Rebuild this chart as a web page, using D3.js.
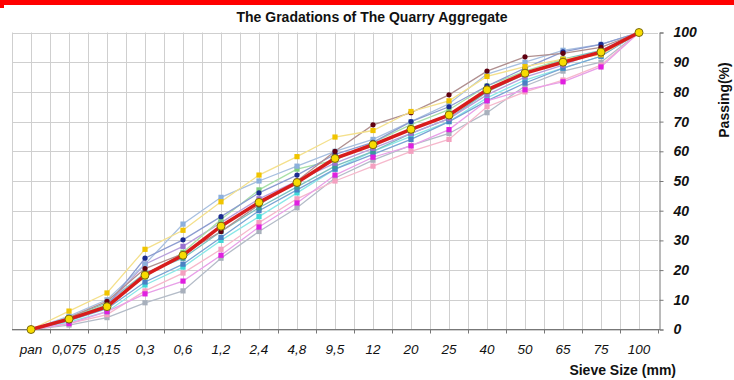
<!DOCTYPE html>
<html>
<head>
<meta charset="utf-8">
<script src="https://cdn.jsdelivr.net/npm/d3@7"></script>
<style>
  body { margin: 0; background: #fff; }
  svg { display: block; font-family: Arial, 'Liberation Sans', sans-serif; }
</style>
</head>
<body>
<div id="plot"></div>
<script>
'use strict';

const categories = ['pan', '0,075', '0,15', '0,3', '0,6', '1,2', '2,4', '4,8', '9,5', '12', '20', '25', '40', '50', '65', '75', '100'];
const yTicks = [0, 10, 20, 30, 40, 50, 60, 70, 80, 90, 100];

const average   = [0, 3.5, 7.7, 18.3, 25, 34.8, 42.8, 49.5, 57.6, 62.2, 67.4, 72.2, 80.7, 86.3, 90, 93.4, 100];
const gold      = [0, 6.2, 12.3, 27, 33.4, 43, 52, 58.2, 64.8, 67, 73.4, 77, 85.2, 88.5, 91, 92.5, 100];
const maroon    = [0, 4, 9.5, 20.5, 25.5, 33, 42, 50, 60, 68.9, 73, 79, 87, 91.8, 93, 95, 100];
const navy      = [0, 3, 8, 24, 30.2, 38, 46, 52, 59, 63, 70, 75, 82, 88, 93.5, 96, 100];
const magenta   = [0, 2, 6, 12, 16.3, 25, 34.5, 42.6, 52, 58, 61.8, 67.3, 77, 80.7, 83.4, 88.4, 100];
const sky       = [0, 4.5, 10, 22, 35.5, 44.5, 50, 55, 60, 64, 70, 76, 86, 90, 94, 96, 100];
const cyan      = [0, 2.5, 6, 15, 21, 30, 38, 46, 54, 60, 65, 70, 78, 84, 88, 92, 100];
const lightGreen= [0, 3.8, 8.5, 17.6, 26, 37, 47, 54, 57, 63, 69, 74, 82, 87, 91, 93, 100];
const gray      = [0, 1.5, 4, 9, 13, 24, 33, 41, 51, 57, 62, 66, 73, 82, 87, 90, 100];
const pink      = [0, 2, 5, 13, 19, 27, 36, 44, 50, 55, 60, 64, 75, 80, 84, 89, 100];
const purple    = [0, 3.5, 8, 22, 28, 36, 44, 50, 56, 61, 66, 71, 79, 85, 89, 94, 100];
const teal      = [0, 4, 9, 19, 24, 33, 41, 48, 55, 60, 66, 71, 80, 86, 91, 94, 100];
const blue      = [0, 3, 7, 16, 22, 31, 40, 47, 54, 59, 64, 70, 77, 83, 88, 92, 100];

// style per series (line colour, marker colour, marker shape)
let series = [
  {values: gray,       line: '#b4bcc8', mark: '#a8b0bc', shape: 'square'},
  {values: pink,       line: '#f6b8cc', mark: '#f4a0c0', shape: 'square'},
  {values: cyan,       line: '#8ae8e8', mark: '#40d8d8', shape: 'square'},
  {values: blue,       line: '#7aa4d4', mark: '#4a80c4', shape: 'square'},
  {values: teal,       line: '#7cc0c0', mark: '#3a9a9a', shape: 'square'},
  {values: purple,     line: '#b8a0dc', mark: '#9a70d0', shape: 'square'},
  {values: lightGreen, line: '#a8e0a8', mark: '#80d080', shape: 'square'},
  {values: sky,        line: '#a8c0e0', mark: '#8cb0dc', shape: 'square'},
  {values: magenta,    line: '#e8a0e8', mark: '#e020e0', shape: 'square'},
  {values: navy,       line: '#8c9cd0', mark: '#1a2a90', shape: 'circle'},
  {values: maroon,     line: '#b09090', mark: '#600010', shape: 'circle'},
  {values: gold,       line: '#f4e08c', mark: '#f0c400', shape: 'square'}
]

let width = 734, height = 380;
let svg = d3.select('#plot').append('svg')
  .attr('width', width)
  .attr('height', height)

// red banner at top
svg.append('rect').attr('x', 0).attr('y', 0).attr('width', width).attr('height', 5).attr('fill', '#ff0000')
svg.append('rect').attr('x', 0).attr('y', 5).attr('width', 4).attr('height', 3).attr('fill', '#ff0000')

let x = d3.scaleBand()
  .domain(categories)
  .range([12, 658]);
let y = d3.scaleLinear()
  .domain([0, 100])
  .range([329.5, 32.5]);
let cx = c => x(c) + x.bandwidth() / 2;

// grid
let grid = svg.append('g').attr('stroke', '#cfcfcf').attr('stroke-width', 1)
grid.selectAll('.hy')
  .data(yTicks)
  .enter()
  .append('line')
  .attr('x1', 12).attr('x2', 658)
  .attr('y1', d => Math.round(y(d)) + 0.5).attr('y2', d => Math.round(y(d)) + 0.5)
let vx = []
categories.forEach(c => { vx.push(x(c)); vx.push(cx(c)); })
grid.selectAll('.vx')
  .data(vx)
  .enter()
  .append('line')
  .attr('x1', d => Math.round(d) + 0.5).attr('x2', d => Math.round(d) + 0.5)
  .attr('y1', y(100)).attr('y2', y(0))

// right axis
let yAxis = d3.axisRight(y).tickValues(yTicks).tickSize(4).tickPadding(10)
let ya = svg.append('g')
  .attr('transform', `translate(${x.range()[1] + 1.5}, 0)`)
  .call(yAxis)
ya.select('.domain').attr('stroke', '#777')
ya.selectAll('.tick line').attr('stroke', '#777')
ya.selectAll('text')
  .attr('font-size', '14px')
  .attr('font-weight', 'bold')
  .attr('font-style', 'italic')
  .attr('fill', '#111')
  .attr('font-family', 'Arial, Liberation Sans, sans-serif')

// bottom axis: labels at centres, ticks at band edges
let xAxis = d3.axisBottom(x).tickSize(0).tickPadding(15)
let xa = svg.append('g')
  .attr('transform', `translate(0, ${y(0)})`)
  .call(xAxis)
xa.select('.domain').remove()
xa.selectAll('text')
  .attr('font-size', '13.5px')
  .attr('font-style', 'italic')
  .attr('fill', '#111')
  .attr('font-family', 'Arial, Liberation Sans, sans-serif')
svg.append('line')
  .attr('x1', 12).attr('x2', 660)
  .attr('y1', y(0)).attr('y2', y(0))
  .attr('stroke', '#777')
svg.append('g').selectAll('line')
  .data(categories.slice(1).concat(['end']))
  .enter()
  .append('line')
  .attr('x1', d => d == 'end' ? 658.5 : Math.round(x(d)) + 0.5)
  .attr('x2', d => d == 'end' ? 658.5 : Math.round(x(d)) + 0.5)
  .attr('y1', y(0)).attr('y2', y(0) + 4)
  .attr('stroke', '#777')

// series
let line = d3.line()
  .x((d, i) => cx(categories[i]))
  .y(d => y(d))
series.forEach(function(s) {
  svg.append('path')
    .attr('d', line(s.values))
    .attr('fill', 'none')
    .attr('stroke', s.line)
    .attr('stroke-width', 1.3)
})
series.forEach(function(s) {
  let g = svg.append('g')
  let pts = s.values.map((v, i) => ({c: categories[i], v: v})).slice(1, 16)
  if (s.shape == 'circle') {
    g.selectAll('circle')
      .data(pts)
      .enter()
      .append('circle')
      .attr('cx', d => cx(d.c))
      .attr('cy', d => y(d.v))
      .attr('r', 2.6)
      .attr('fill', s.mark)
  } else {
    g.selectAll('rect')
      .data(pts)
      .enter()
      .append('rect')
      .attr('x', d => cx(d.c) - 2.6)
      .attr('y', d => y(d.v) - 2.6)
      .attr('width', 5.2)
      .attr('height', 5.2)
      .attr('fill', s.mark)
  }
})

// average line
svg.append('path')
  .attr('d', line(average))
  .attr('fill', 'none')
  .attr('stroke', '#d81c1c')
  .attr('stroke-width', 3.5)
svg.append('g')
  .selectAll('circle')
  .data(average)
  .enter()
  .append('circle')
  .attr('cx', (d, i) => cx(categories[i]))
  .attr('cy', d => y(d))
  .attr('r', 4)
  .attr('fill', '#f8dc00')
  .attr('stroke', '#7a6a10')
  .attr('stroke-width', 1)

// titles
svg.append('text')
  .attr('x', 372)
  .attr('y', 22)
  .attr('text-anchor', 'middle')
  .attr('font-size', '14px')
  .attr('font-weight', 'bold')
  .attr('fill', '#111')
  .text('The Gradations of The Quarry Aggregate')
svg.append('text')
  .attr('transform', 'translate(729, 100) rotate(-90)')
  .attr('text-anchor', 'middle')
  .attr('font-size', '14px')
  .attr('font-weight', 'bold')
  .attr('fill', '#111')
  .text('Passing(%)')
svg.append('text')
  .attr('x', 676)
  .attr('y', 375)
  .attr('text-anchor', 'end')
  .attr('font-size', '14px')
  .attr('font-weight', 'bold')
  .attr('fill', '#111')
  .text('Sieve Size (mm)')
</script>
</body>
</html>
